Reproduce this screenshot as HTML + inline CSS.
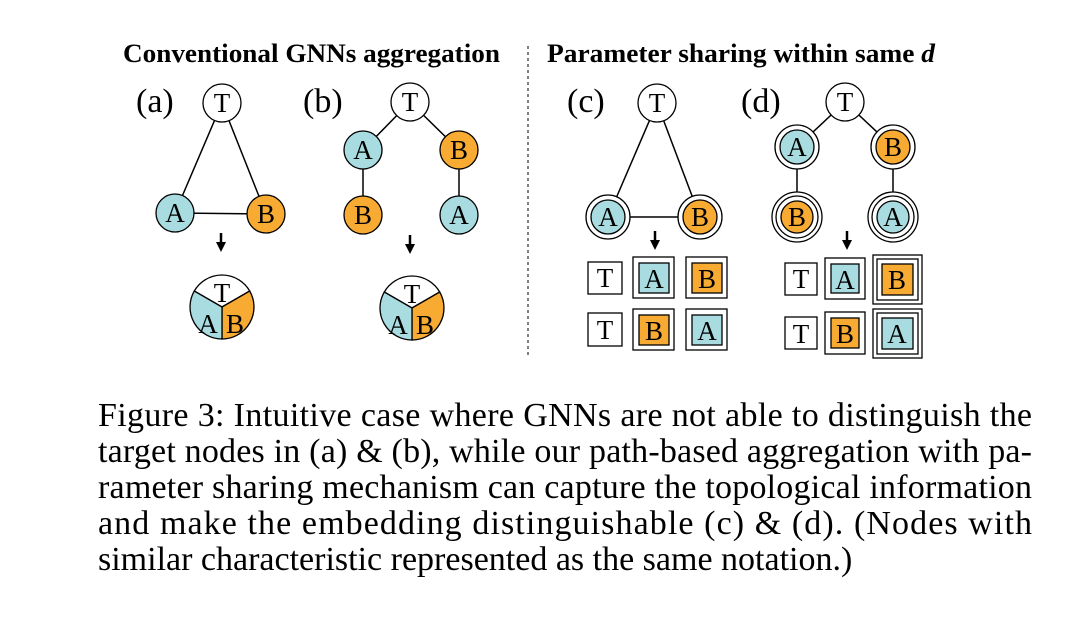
<!DOCTYPE html>
<html><head><meta charset="utf-8"><style>
html,body{margin:0;padding:0;background:#fff;}
svg{display:block;}
text{font-family:"Liberation Serif",serif;}
</style></head><body>
<svg width="1080" height="631" viewBox="0 0 1080 631" xmlns="http://www.w3.org/2000/svg">
<defs>
<marker id="ar" viewBox="0 0 10 10" refX="5" refY="5" markerWidth="4" markerHeight="4" orient="auto"><path d="M0,0 L10,5 L0,10z" fill="#000"/></marker>
</defs>
<text x="123" y="62" font-size="26.5" font-weight="bold" textLength="377" lengthAdjust="spacingAndGlyphs">Conventional GNNs aggregation</text>
<text x="547" y="62" font-size="26.5" font-weight="bold" textLength="388" lengthAdjust="spacingAndGlyphs">Parameter sharing within same <tspan font-style="italic">d</tspan></text>
<line x1="528" y1="46" x2="528" y2="356" stroke="#555" stroke-width="1.5" stroke-dasharray="3,3"/>

<g font-size="34"><text x="136" y="112">(a)</text><text x="303" y="112">(b)</text><text x="567" y="112">(c)</text><text x="741" y="112">(d)</text></g>

<g stroke="#000" stroke-width="1.5">
<line x1="222" y1="103" x2="175" y2="213"/><line x1="222" y1="103" x2="266" y2="214"/><line x1="175" y1="213" x2="266" y2="214"/>
<line x1="410" y1="102" x2="363" y2="150"/><line x1="410" y1="102" x2="459" y2="150"/><line x1="363" y1="150" x2="363" y2="215"/><line x1="459" y1="150" x2="459" y2="215"/>
<line x1="657" y1="103" x2="608" y2="217"/><line x1="657" y1="103" x2="700" y2="217"/><line x1="608" y1="217" x2="700" y2="217"/>
<line x1="845" y1="102" x2="797" y2="147"/><line x1="845" y1="102" x2="893" y2="147"/><line x1="797" y1="147" x2="797" y2="217"/><line x1="893" y1="147" x2="893" y2="217"/>
</g>

<g stroke="#000" stroke-width="1.3">
<circle cx="222" cy="103" r="19" fill="#fff"/><circle cx="175" cy="213" r="19" fill="#a9dce0"/><circle cx="266" cy="214" r="19" fill="#f7ab33"/>
<circle cx="410" cy="102" r="19" fill="#fff"/><circle cx="363" cy="150" r="19" fill="#a9dce0"/><circle cx="459" cy="150" r="19" fill="#f7ab33"/><circle cx="363" cy="215" r="19" fill="#f7ab33"/><circle cx="459" cy="215" r="19" fill="#a9dce0"/>
<circle cx="657" cy="103" r="19" fill="#fff"/>
<circle cx="608" cy="217" r="22" fill="#fff"/><circle cx="608" cy="217" r="17" fill="#a9dce0"/>
<circle cx="700" cy="217" r="22" fill="#fff"/><circle cx="700" cy="217" r="17" fill="#f7ab33"/>
<circle cx="845" cy="102" r="19" fill="#fff"/>
<circle cx="797" cy="147" r="22" fill="#fff"/><circle cx="797" cy="147" r="17" fill="#a9dce0"/>
<circle cx="893" cy="147" r="22" fill="#fff"/><circle cx="893" cy="147" r="17" fill="#f7ab33"/>
<circle cx="797" cy="217" r="25" fill="#fff"/><circle cx="797" cy="217" r="21" fill="#fff"/><circle cx="797" cy="217" r="16" fill="#f7ab33"/>
<circle cx="893" cy="217" r="25" fill="#fff"/><circle cx="893" cy="217" r="21" fill="#fff"/><circle cx="893" cy="217" r="16" fill="#a9dce0"/>
</g>
<g font-size="27" text-anchor="middle">
<text x="222" y="112">T</text><text x="175" y="222">A</text><text x="266" y="223">B</text>
<text x="410" y="111">T</text><text x="363" y="159">A</text><text x="459" y="159">B</text><text x="363" y="224">B</text><text x="459" y="224">A</text>
<text x="657" y="112">T</text><text x="608" y="226">A</text><text x="700" y="226">B</text>
<text x="845" y="111">T</text><text x="797" y="156">A</text><text x="893" y="156">B</text><text x="797" y="226">B</text><text x="893" y="226">A</text>
</g>

<g stroke="#000" stroke-width="2.5">
<line x1="221" y1="233" x2="221" y2="247" marker-end="url(#ar)"/>
<line x1="410" y1="235" x2="410" y2="249" marker-end="url(#ar)"/>
<line x1="655" y1="231" x2="655" y2="245" marker-end="url(#ar)"/>
<line x1="847" y1="231" x2="847" y2="245" marker-end="url(#ar)"/>
</g>

<g stroke="#000" stroke-width="1.3">
<g transform="translate(222,307)">
<path d="M0,0 L-27.7,-16 A32,32 0 0,1 27.7,-16Z" fill="#fff"/>
<path d="M0,0 L27.7,-16 A32,32 0 0,1 0,32Z" fill="#f7ab33"/>
<path d="M0,0 L0,32 A32,32 0 0,1 -27.7,-16Z" fill="#a9dce0"/>
</g>
<g transform="translate(412,308)">
<path d="M0,0 L-27.7,-16 A32,32 0 0,1 27.7,-16Z" fill="#fff"/>
<path d="M0,0 L27.7,-16 A32,32 0 0,1 0,32Z" fill="#f7ab33"/>
<path d="M0,0 L0,32 A32,32 0 0,1 -27.7,-16Z" fill="#a9dce0"/>
</g>
</g>
<g font-size="27" text-anchor="middle">
<text x="222" y="302">T</text><text x="208" y="333">A</text><text x="235" y="333">B</text>
<text x="412" y="303">T</text><text x="398" y="334">A</text><text x="425" y="334">B</text>
</g>

<g stroke="#000" stroke-width="1.3">
<rect x="588" y="262" width="34" height="32" fill="#fff"/>
<rect x="633" y="257" width="41" height="41" fill="#fff"/><rect x="639" y="263" width="30" height="30" fill="#a9dce0"/>
<rect x="686" y="257" width="41" height="41" fill="#fff"/><rect x="692" y="263" width="30" height="30" fill="#f7ab33"/>
<rect x="588" y="313" width="34" height="33" fill="#fff"/>
<rect x="633" y="309" width="41" height="41" fill="#fff"/><rect x="639" y="315" width="30" height="30" fill="#f7ab33"/>
<rect x="686" y="309" width="41" height="41" fill="#fff"/><rect x="692" y="315" width="30" height="30" fill="#a9dce0"/>
<rect x="785" y="263" width="32" height="32" fill="#fff"/>
<rect x="825" y="258" width="40" height="41" fill="#fff"/><rect x="831" y="264" width="28" height="29" fill="#a9dce0"/>
<rect x="873" y="255" width="49" height="49" fill="#fff"/><rect x="877" y="259" width="41" height="41" fill="#fff"/><rect x="882" y="264" width="31" height="31" fill="#f7ab33"/>
<rect x="785" y="317" width="32" height="32" fill="#fff"/>
<rect x="825" y="312" width="40" height="42" fill="#fff"/><rect x="831" y="318" width="28" height="30" fill="#f7ab33"/>
<rect x="873" y="309" width="49" height="49" fill="#fff"/><rect x="877" y="313" width="41" height="41" fill="#fff"/><rect x="882" y="318" width="31" height="31" fill="#a9dce0"/>
</g>
<g font-size="27" text-anchor="middle">
<text x="605" y="287">T</text><text x="654" y="288">A</text><text x="707" y="288">B</text>
<text x="605" y="339">T</text><text x="654" y="340">B</text><text x="707" y="340">A</text>
<text x="801" y="288">T</text><text x="845" y="289">A</text><text x="897" y="289">B</text>
<text x="801" y="343">T</text><text x="845" y="343">B</text><text x="897" y="343">A</text>
</g>

<g font-size="34">
<text x="98" y="426" textLength="934" lengthAdjust="spacing">Figure 3: Intuitive case where GNNs are not able to distinguish the</text>
<text x="98" y="462" textLength="934" lengthAdjust="spacing">target nodes in (a) &amp; (b), while our path-based aggregation with pa-</text>
<text x="98" y="498" textLength="934" lengthAdjust="spacing">rameter sharing mechanism can capture the topological information</text>
<text x="98" y="534" textLength="934" lengthAdjust="spacing">and make the embedding distinguishable (c) &amp; (d).  (Nodes with</text>
<text x="98" y="570">similar characteristic represented as the same notation.)</text>
</g>
</svg>
</body></html>
